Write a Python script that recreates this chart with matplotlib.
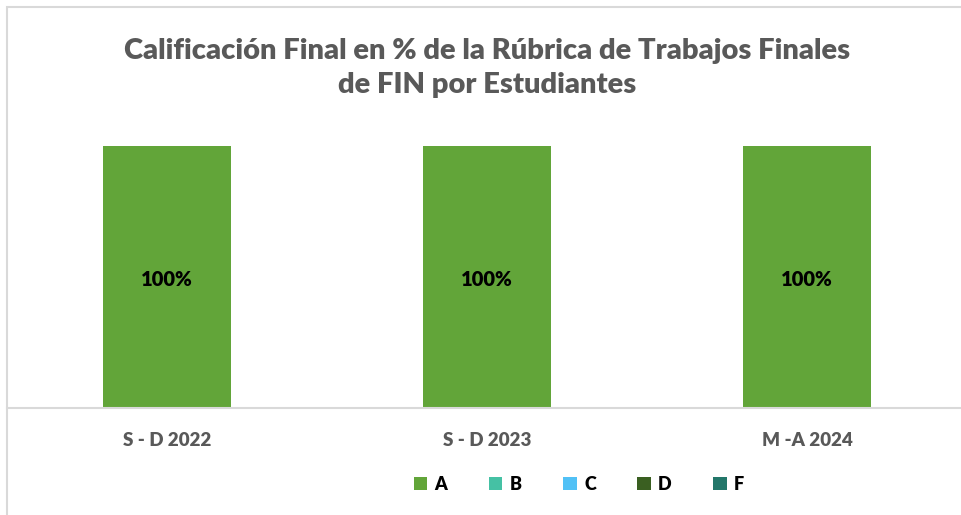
import numpy as np
import matplotlib
matplotlib.use('Agg')
import matplotlib.pyplot as plt
from matplotlib.patches import Rectangle

plt.rcParams['font.family'] = 'Lato'
plt.rcParams['font.weight'] = 'bold'

# Daten
categories = ['S - D 2022', 'S - D 2023', 'M -A 2024']
series_names = ['A', 'B', 'C', 'D', 'F']
A = [100, 100, 100]
B = [0, 0, 0]
C = [0, 0, 0]
D = [0, 0, 0]
F = [0, 0, 0]
colors = ['#62A539', '#45C1A4', '#51C1F6', '#3A5F21', '#23776A']

W, H = 961, 515
fig = plt.figure(figsize=(W / 100, H / 100), dpi=100)

# Rahmen des Diagramms (rechts/unten abgeschnitten)
fig.patches.append(Rectangle((6.5 / W, -0.1), 2, 1 - 6.5 / H + 0.1,
                             transform=fig.transFigure, fill=False,
                             edgecolor='#d9d9d9', linewidth=1.5))

ax = fig.add_axes([7 / W, (H - 408) / H, 960 / W, (408 - 146) / H])
x = np.arange(len(categories))
bottom = np.zeros(len(categories))
handles = []
for name, vals, col in zip(series_names, [A, B, C, D, F], colors):
    b = ax.bar(x, vals, width=0.4, bottom=bottom, color=col, label=name)
    handles.append(b)
    if name == 'A':
        for xi, v, bt in zip(x, vals, bottom):
            ax.text(xi, bt + v / 2 - 1, '%d%%' % v, ha='center', va='center',
                    fontsize=14.5, fontweight='heavy', color='black')
    bottom = bottom + np.array(vals)

ax.set_xlim(-0.5, len(categories) - 0.5)
ax.set_ylim(0, 100)
for s in ['top', 'right', 'left']:
    ax.spines[s].set_visible(False)
ax.spines['bottom'].set_color('#d9d9d9')
ax.spines['bottom'].set_linewidth(1.5)
ax.set_yticks([])
ax.set_xticks(x)
ax.set_xticklabels(categories, fontsize=13.5, fontweight='heavy', color='#595959')
ax.tick_params(axis='x', length=0, pad=17)
ax.set_facecolor('none')

fig.text(487 / W, 1 - 68 / H,
         'Calificación Final en % de la Rúbrica de Trabajos Finales\nde FIN por Estudiantes',
         ha='center', va='center', fontsize=21, fontweight='heavy',
         color='#595959', linespacing=1.35)

leg = fig.legend(handles=handles, labels=series_names, loc='center',
                 bbox_to_anchor=(579 / W, 1 - 484 / H), ncol=5, frameon=False,
                 handlelength=0.75, handleheight=0.75, columnspacing=2.3,
                 handletextpad=0.4, prop={'size': 13, 'weight': 'heavy'})

fig.savefig('out.png', dpi=100)
